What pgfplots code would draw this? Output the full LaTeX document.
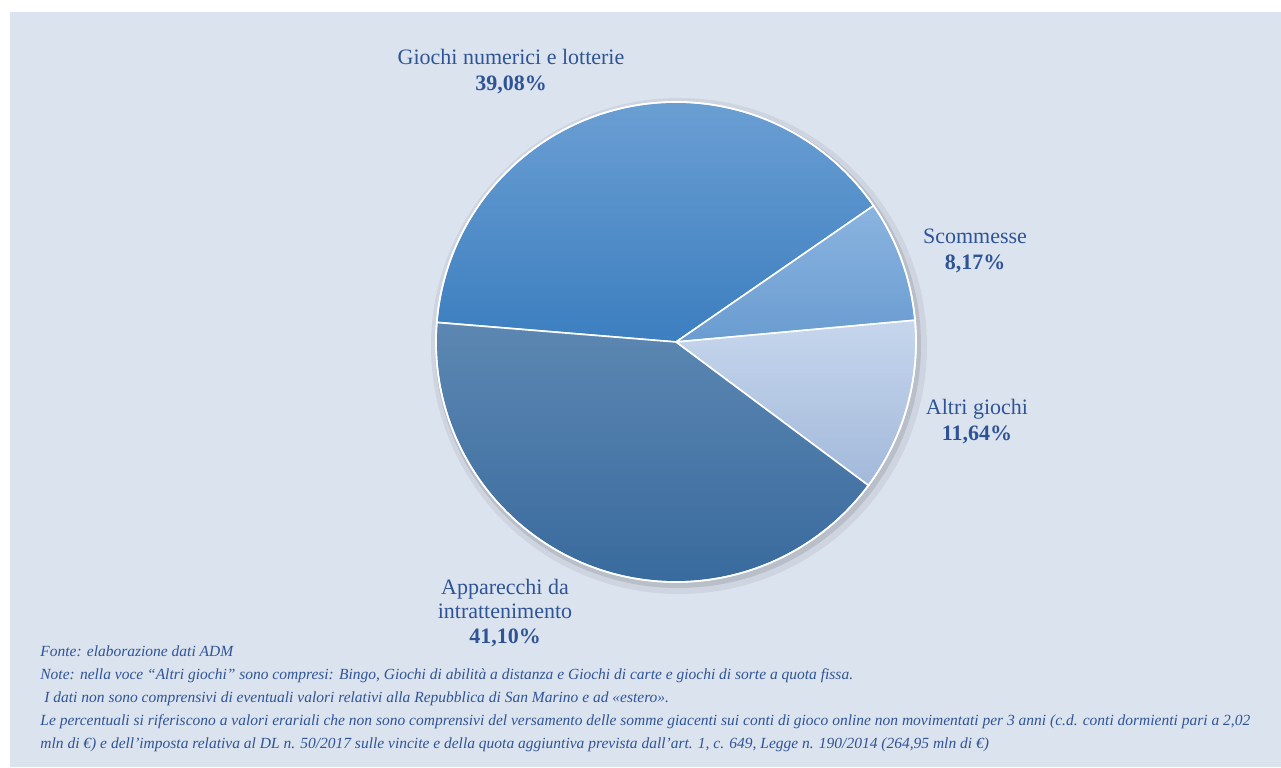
\documentclass[border=0pt]{standalone}
\usepackage{fontspec}
\setmainfont{Liberation Serif}
\usepackage{pgfplots}
\usepackage{pgfplotstable}
\pgfplotsset{compat=1.18}

\definecolor{bg}{HTML}{DBE3EE}
\definecolor{txt}{HTML}{2F5496}
\definecolor{nTop}{HTML}{6CA0D4}\definecolor{nBot}{HTML}{3C7EBF}
\definecolor{sTop}{HTML}{8AB4E0}\definecolor{sBot}{HTML}{6A9CD0}
\definecolor{aTop}{HTML}{C6D6ED}\definecolor{aBot}{HTML}{A2B9DA}
\definecolor{pTop}{HTML}{5C87B2}\definecolor{pBot}{HTML}{35679B}

% share (%) of each slice, clockwise from the left edge
\pgfplotstableread{
value top bot
39.08 nTop nBot
8.17  sTop sBot
11.64 aTop aBot
41.10 pTop pBot
}\pietable

\begin{document}
\begin{tikzpicture}
\begin{axis}[
 width=640.5pt,height=383.5pt,scale only axis,
 xmin=0,xmax=1281,ymin=0,ymax=767,
 hide axis,clip=false]
\path (axis cs:0,0) rectangle (axis cs:1281,767);
\fill[bg] (axis cs:10,0) rectangle (axis cs:1281,755);
% soft shadow
\fill[black,opacity=0.06] (axis cs:679,421) circle[radius=124pt];
\fill[black,opacity=0.10] (axis cs:678,422) circle[radius=121.5pt];
\pgfplotstablegetrowsof{\pietable}\let\nrows\pgfplotsretval
\pgfmathtruncatemacro\lastrow{\nrows-1}
\def\startangle{175.3}
\pgfplotsforeachungrouped \i in {0,...,\lastrow}{%
 \pgfplotstablegetelem{\i}{value}\of\pietable\let\val\pgfplotsretval
 \pgfplotstablegetelem{\i}{top}\of\pietable\let\ctop\pgfplotsretval
 \pgfplotstablegetelem{\i}{bot}\of\pietable\let\cbot\pgfplotsretval
 \pgfmathsetmacro\endangle{\startangle-3.6*\val}
 \edef\doslice{\noexpand\shadedraw[top color=\ctop,bottom color=\cbot,draw=white,line width=0.8pt,line join=round]
  (axis cs:676,425) -- ++(\startangle:120pt) arc[start angle=\startangle,end angle=\endangle,radius=120pt] -- cycle;}
 \doslice
 \global\let\startangle\endangle
}
\draw[white,line width=0.8pt] (axis cs:676,425) circle[radius=120pt];
\begin{scope}[every node/.style={text=txt,align=center,font=\fontsize{11}{13}\selectfont,inner sep=0pt}]
\node at (axis cs:511,695) {Giochi numerici e lotterie\\\textbf{39,08\%}};
\node at (axis cs:975,516) {Scommesse\\\textbf{8,17\%}};
\node at (axis cs:977,345) {Altri giochi\\\textbf{11,64\%}};
\node[font=\fontsize{11}{12.3}\selectfont] at (axis cs:505,154) {Apparecchi da\\intrattenimento\\\textbf{41,10\%}};
\end{scope}
\node[anchor=north west,inner sep=0pt,align=left,text=txt,font=\fontsize{7.75}{11.5}\selectfont\itshape]
 at (axis cs:40,122) {Fonte: elaborazione dati ADM\\
Note: nella voce “Altri giochi” sono compresi: Bingo, Giochi di abilità a distanza e Giochi di carte e giochi di sorte a quota fissa.\\
\hspace{2pt}I dati non sono comprensivi di eventuali valori relativi alla Repubblica di San Marino e ad «estero».\\
Le percentuali si riferiscono a valori erariali che non sono comprensivi del versamento delle somme giacenti sui conti di gioco online non movimentati per 3 anni (c.d. conti dormienti pari a 2,02\\
mln di €) e dell’imposta relativa al DL n. 50/2017 sulle vincite e della quota aggiuntiva prevista dall’art. 1, c. 649, Legge n. 190/2014 (264,95 mln di €)};
\end{axis}
\end{tikzpicture}
\end{document}
